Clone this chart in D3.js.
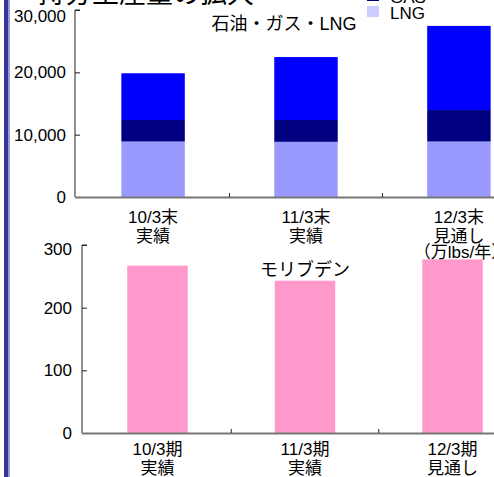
<!DOCTYPE html>
<html><head><meta charset="utf-8">
<script src="https://cdn.jsdelivr.net/npm/d3@7"></script>
<style>body{margin:0;background:#fff;}svg{display:block;font-family:"Liberation Sans",Arial,"Noto Sans CJK JP",sans-serif;}</style>
</head><body>
<script>
// ---- data ----
const topCategories = ["10/3末\n実績", "11/3末\n実績", "12/3末\n見通し"];
const seriesNames = ["石油", "GAS", "LNG"];
const lngValues = [8900, 8850, 8900];
const gasValues = [3450, 3500, 5050];
const oilValues = [7500, 10100, 13500];
const topTicks = [0, 10000, 20000, 30000];

const bottomCategories = ["10/3期\n実績", "11/3期\n実績", "12/3期\n見通し"];
const molyValues = [267, 243, 277];
const bottomTicks = [0, 100, 200, 300];

const W = 494, H = 477;
const svg = d3.select("body").append("svg").attr("width", W).attr("height", H);

// left stripe
svg.append("rect").attr("x", 4).attr("y", 0).attr("width", 4.5).attr("height", H).attr("fill", "#333399");
svg.append("rect").attr("x", 8.5).attr("y", 0).attr("width", 1.5).attr("height", H).attr("fill", "#9999dd");

// title (cut off at top)
svg.append("text").attr("x", 38).attr("y", 3).attr("font-size", 27).attr("fill", "#000").text("持分生産量の拡大");

// ---- top chart ----
const colors = {"石油": "#0000ff", "GAS": "#000080", "LNG": "#9999ff"};
const legendColors = {"石油": "#0000ff", "GAS": "#000080", "LNG": "#ccccff"};
const x1 = d3.scaleBand().domain(topCategories).range([77, 535]).paddingInner(0.585).paddingOuter(0.29);
const y1 = d3.scaleLinear().domain([0, 30000]).range([197, 10]);
const rows = topCategories.map((c, i) => ({cat: c, "LNG": lngValues[i], "GAS": gasValues[i], "石油": oilValues[i]}));
const stack = d3.stack().keys(["LNG", "GAS", "石油"])(rows);
const g1 = svg.append("g");
stack.forEach(layer => {
  g1.selectAll(null).data(layer).join("rect")
    .attr("x", d => x1(d.data.cat)).attr("width", x1.bandwidth())
    .attr("y", d => y1(d[1])).attr("height", d => y1(d[0]) - y1(d[1]))
    .attr("fill", colors[layer.key]);
});
// y axis
const yAx1 = svg.append("g").attr("transform", "translate(75,0)")
  .call(d3.axisRight(y1).tickValues(topTicks).tickSize(5).tickFormat(() => ""));
yAx1.select(".domain").attr("stroke", "#222").attr("d", `M5,${y1(30000)}H0V${y1(0)}`);
yAx1.selectAll(".tick line").attr("stroke", "#222");
svg.append("g").selectAll("text").data(topTicks).join("text")
  .attr("x", 66).attr("y", d => y1(d) + (d === 30000 ? 12 : 6)).attr("text-anchor", "end").attr("font-size", 17)
  .text(d => d3.format(",")(d));
// x axis
svg.append("line").attr("x1", 75).attr("x2", W).attr("y1", 197.5).attr("y2", 197.5).attr("stroke", "#777").attr("stroke-width", 2);
const step1 = x1.step();
svg.append("g").selectAll("line").data(topCategories.slice(1)).join("line")
  .attr("x1", d => x1(d) - (step1 - x1.bandwidth()) / 2).attr("x2", d => x1(d) - (step1 - x1.bandwidth()) / 2)
  .attr("y1", 197).attr("y2", 193).attr("stroke", "#222");
topCategories.forEach(c => {
  const t = svg.append("text").attr("text-anchor", "middle").attr("font-size", 17);
  c.split("\n").forEach((ln, k) => t.append("tspan").attr("x", x1(c) + x1.bandwidth() / 2).attr("y", 223 + k * 19).text(ln));
});
svg.append("text").attr("x", 284).attr("y", 30).attr("text-anchor", "middle").attr("font-size", 18).text("石油・ガス・LNG");
// legend
seriesNames.forEach((n, i) => {
  const yy = -26 + i * 16;
  svg.append("rect").attr("x", 367).attr("y", yy).attr("width", 12).attr("height", 11).attr("fill", legendColors[n]);
  svg.append("text").attr("x", 390).attr("y", yy + 13).attr("font-size", 17).text(n);
});

// ---- bottom chart ----
const x2 = d3.scaleBand().domain(bottomCategories).range([83, 527]).paddingInner(0.59).paddingOuter(0.3);
const y2 = d3.scaleLinear().domain([0, 300]).range([433, 245]);
svg.append("g").selectAll("rect").data(bottomCategories).join("rect")
  .attr("x", d => x2(d)).attr("width", x2.bandwidth())
  .attr("y", (d, i) => y2(molyValues[i])).attr("height", (d, i) => y2(0) - y2(molyValues[i]))
  .attr("fill", "#ff99cc");
const yAx2 = svg.append("g").attr("transform", "translate(82,0)")
  .call(d3.axisRight(y2).tickValues(bottomTicks).tickSize(5).tickFormat(() => ""));
yAx2.select(".domain").attr("stroke", "#222").attr("d", `M5,${y2(300)}H0V${y2(0)}`);
yAx2.selectAll(".tick line").attr("stroke", "#222");
svg.append("g").selectAll("text").data(bottomTicks).join("text")
  .attr("x", 72).attr("y", d => y2(d) + (d === 300 ? 10 : 6)).attr("text-anchor", "end").attr("font-size", 17).text(d => d);
svg.append("line").attr("x1", 82).attr("x2", W).attr("y1", 433.5).attr("y2", 433.5).attr("stroke", "#777").attr("stroke-width", 2);
const step2 = x2.step();
svg.append("g").selectAll("line").data(bottomCategories.slice(1)).join("line")
  .attr("x1", d => x2(d) - (step2 - x2.bandwidth()) / 2).attr("x2", d => x2(d) - (step2 - x2.bandwidth()) / 2)
  .attr("y1", 433).attr("y2", 429).attr("stroke", "#222");
bottomCategories.forEach(c => {
  const t = svg.append("text").attr("text-anchor", "middle").attr("font-size", 17);
  c.split("\n").forEach((ln, k) => t.append("tspan").attr("x", x2(c) + x2.bandwidth() / 2).attr("y", 455 + k * 19).text(ln));
});
svg.append("text").attr("x", 305).attr("y", 276).attr("text-anchor", "middle").attr("font-size", 18).text("モリブデン");
svg.append("text").attr("x", 461).attr("y", 258).attr("text-anchor", "middle").attr("font-size", 17).text("（万lbs/年）");
</script>
</body></html>
